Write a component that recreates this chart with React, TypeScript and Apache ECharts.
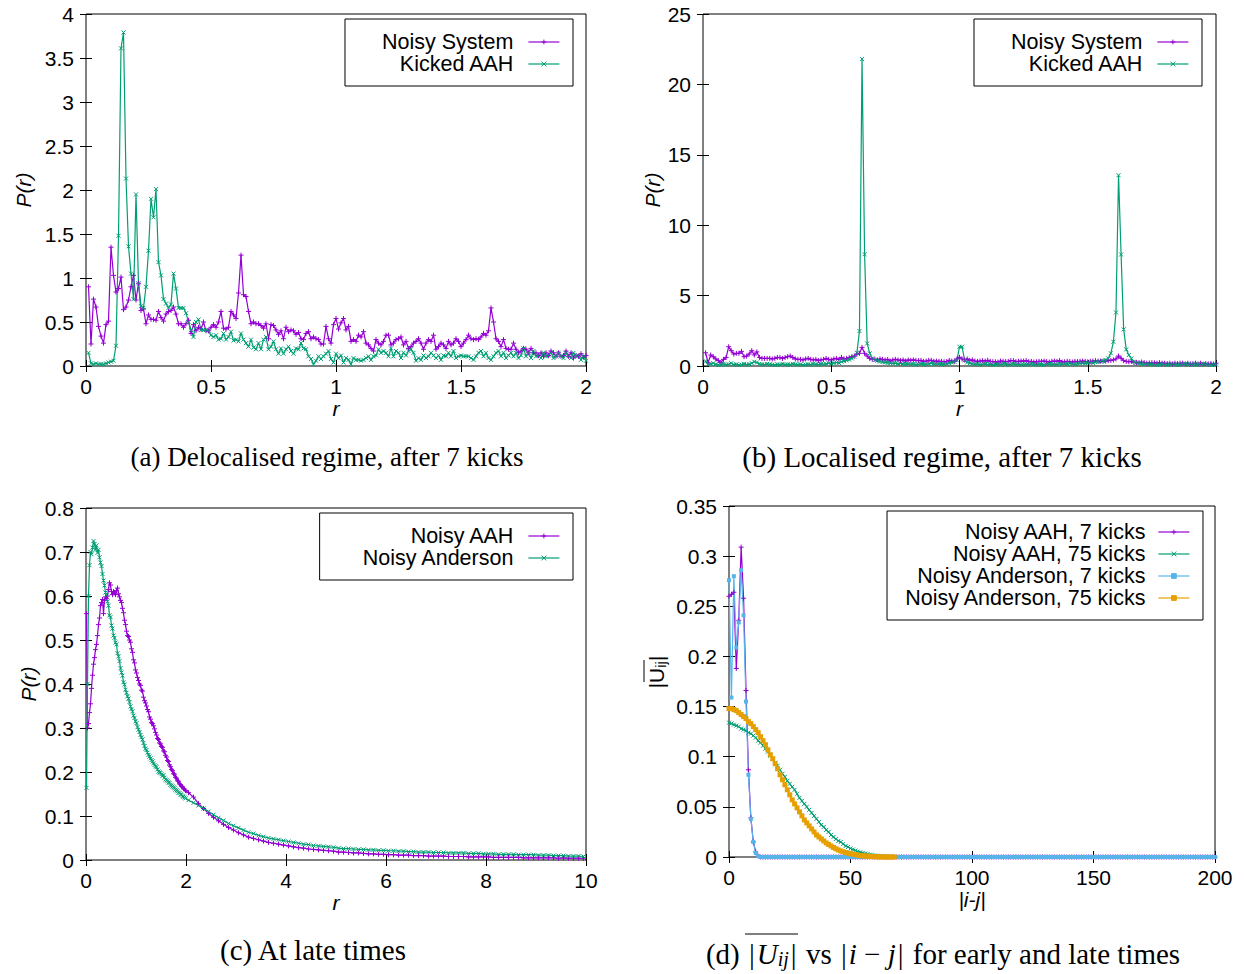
import React, { useEffect, useRef } from 'react';
import * as echarts from 'echarts';

const PURPLE = '#9400d3';
const GREEN = '#009e73';
const BLUE = '#56b4e9';
const ORANGE = '#e69f00';
const SANS = 'Liberation Sans';
const SERIF = 'Liberation Serif';

// ---------- (a) Delocalised regime, bins r = 0.01 .. 2.00 ----------
const A_START = 0.01;
const A_STEP = 0.01;
const aNoisySystem = [
  0.90,0.25,0.76,0.67,0.45,0.34,0.26,0.47,0.51,1.35,
  1.03,0.84,0.88,1.01,0.64,0.67,0.75,0.90,1.03,0.75,
  0.94,0.63,0.65,0.48,0.58,0.53,0.53,0.52,0.62,0.55,
  0.51,0.59,0.62,0.63,0.67,0.59,0.48,0.48,0.44,0.48,
  0.52,0.37,0.47,0.40,0.44,0.42,0.50,0.40,0.40,0.44,
  0.47,0.44,0.50,0.62,0.43,0.42,0.44,0.62,0.58,0.54,
  0.83,1.26,0.81,0.79,0.62,0.48,0.50,0.48,0.48,0.46,
  0.43,0.48,0.31,0.47,0.46,0.41,0.36,0.40,0.31,0.44,
  0.39,0.41,0.40,0.36,0.38,0.31,0.30,0.37,0.39,0.31,
  0.33,0.31,0.30,0.25,0.25,0.45,0.31,0.26,0.47,0.54,
  0.42,0.49,0.54,0.41,0.45,0.28,0.30,0.28,0.35,0.33,
  0.39,0.26,0.24,0.20,0.17,0.30,0.26,0.24,0.28,0.35,
  0.35,0.24,0.26,0.30,0.31,0.33,0.24,0.28,0.20,0.22,
  0.26,0.28,0.31,0.26,0.19,0.26,0.30,0.28,0.35,0.19,
  0.22,0.26,0.24,0.20,0.28,0.24,0.26,0.31,0.28,0.22,
  0.26,0.30,0.35,0.31,0.30,0.31,0.30,0.33,0.37,0.35,
  0.40,0.66,0.50,0.31,0.28,0.22,0.30,0.20,0.19,0.19,
  0.26,0.19,0.15,0.17,0.20,0.19,0.15,0.20,0.15,0.15,
  0.12,0.15,0.11,0.15,0.12,0.17,0.15,0.11,0.15,0.11,
  0.12,0.17,0.11,0.15,0.09,0.12,0.11,0.14,0.10,0.12,
];
const aKickedAAH = [
  0.15,0.03,0.02,0.03,0.02,0.02,0.02,0.03,0.04,0.05,
  0.06,0.23,1.48,3.61,3.79,2.13,1.36,1.05,0.76,1.95,
  0.94,0.68,0.66,0.90,1.31,1.90,1.69,2.01,1.18,1.03,
  0.76,0.71,0.66,0.70,1.05,0.88,0.66,0.66,0.66,0.60,
  0.50,0.41,0.33,0.50,0.53,0.41,0.41,0.41,0.40,0.35,
  0.33,0.35,0.30,0.31,0.37,0.30,0.33,0.39,0.29,0.30,
  0.28,0.37,0.30,0.26,0.22,0.30,0.21,0.19,0.26,0.19,
  0.30,0.33,0.19,0.22,0.28,0.19,0.14,0.20,0.14,0.19,
  0.22,0.17,0.14,0.20,0.19,0.26,0.20,0.19,0.11,0.08,
  0.02,0.06,0.11,0.08,0.11,0.14,0.17,0.08,0.04,0.14,
  0.09,0.12,0.04,0.09,0.07,0.02,0.09,0.07,0.07,0.06,
  0.07,0.09,0.11,0.07,0.11,0.12,0.19,0.15,0.17,0.15,
  0.11,0.20,0.11,0.17,0.15,0.09,0.15,0.12,0.17,0.19,
  0.15,0.06,0.09,0.07,0.12,0.09,0.11,0.15,0.12,0.09,
  0.12,0.07,0.12,0.11,0.15,0.11,0.17,0.09,0.11,0.12,
  0.11,0.11,0.11,0.09,0.07,0.11,0.15,0.17,0.11,0.15,
  0.09,0.07,0.11,0.15,0.17,0.11,0.15,0.09,0.12,0.15,
  0.11,0.15,0.09,0.12,0.20,0.11,0.15,0.09,0.17,0.11,
  0.12,0.09,0.15,0.11,0.12,0.15,0.09,0.11,0.15,0.11,
  0.09,0.15,0.11,0.09,0.15,0.11,0.12,0.07,0.11,0.06,
];

// ---------- (b) Localised regime, bins r = 0.01 .. 2.00 ----------
const bNoisySystem = [
  0.94,0.23,0.78,0.66,0.50,0.38,0.24,0.47,0.60,1.37,
  1.09,0.85,0.90,0.90,1.04,0.66,0.70,0.85,1.09,0.78,
  1.00,0.61,0.54,0.54,0.54,0.54,0.50,0.54,0.61,0.60,
  0.54,0.60,0.66,0.71,0.61,0.50,0.47,0.47,0.43,0.50,
  0.54,0.47,0.43,0.47,0.38,0.43,0.47,0.54,0.47,0.43,
  0.50,0.54,0.47,0.61,0.50,0.54,0.60,0.66,0.70,0.85,
  0.90,1.32,0.90,0.71,0.54,0.47,0.47,0.43,0.50,0.47,
  0.43,0.47,0.35,0.43,0.47,0.43,0.38,0.43,0.35,0.43,
  0.40,0.43,0.40,0.38,0.40,0.33,0.35,0.40,0.40,0.33,
  0.35,0.33,0.33,0.30,0.31,0.40,0.35,0.33,0.50,0.62,
  0.50,0.43,0.50,0.40,0.43,0.35,0.33,0.35,0.38,0.35,
  0.40,0.33,0.31,0.30,0.28,0.35,0.33,0.31,0.33,0.38,
  0.38,0.31,0.33,0.35,0.35,0.38,0.31,0.33,0.28,0.30,
  0.33,0.33,0.35,0.31,0.28,0.33,0.35,0.33,0.38,0.28,
  0.30,0.33,0.31,0.28,0.33,0.31,0.33,0.35,0.33,0.30,
  0.33,0.35,0.38,0.35,0.35,0.35,0.35,0.38,0.40,0.43,
  0.50,0.71,0.55,0.38,0.33,0.30,0.33,0.26,0.24,0.24,
  0.28,0.24,0.20,0.22,0.24,0.22,0.20,0.24,0.20,0.20,
  0.17,0.20,0.15,0.20,0.17,0.20,0.20,0.15,0.20,0.15,
  0.17,0.20,0.15,0.20,0.13,0.17,0.15,0.18,0.14,0.16,
];
const bKickedAAH = [
  0.35,0.10,0.15,0.20,0.12,0.08,0.10,0.15,0.10,0.12,
  0.20,0.10,0.12,0.08,0.10,0.15,0.10,0.12,0.20,0.30,
  0.25,0.15,0.12,0.10,0.15,0.12,0.10,0.08,0.12,0.10,
  0.15,0.10,0.12,0.10,0.15,0.12,0.10,0.12,0.08,0.10,
  0.12,0.10,0.15,0.12,0.10,0.15,0.12,0.15,0.20,0.15,
  0.20,0.25,0.22,0.30,0.35,0.40,0.45,0.54,0.66,0.94,
  2.48,21.8,7.94,1.60,0.90,0.54,0.43,0.38,0.32,0.28,
  0.25,0.22,0.20,0.18,0.20,0.15,0.18,0.15,0.12,0.15,
  0.12,0.15,0.10,0.12,0.15,0.10,0.12,0.15,0.20,0.15,
  0.12,0.15,0.10,0.12,0.15,0.20,0.25,0.30,0.40,1.37,
  1.37,0.40,0.25,0.20,0.15,0.12,0.15,0.10,0.12,0.15,
  0.10,0.12,0.08,0.10,0.12,0.10,0.15,0.12,0.10,0.12,
  0.15,0.10,0.12,0.10,0.08,0.12,0.10,0.15,0.12,0.10,
  0.12,0.10,0.08,0.12,0.15,0.10,0.12,0.10,0.15,0.12,
  0.15,0.12,0.18,0.15,0.12,0.15,0.18,0.20,0.18,0.22,
  0.25,0.22,0.28,0.30,0.32,0.35,0.43,0.54,0.90,1.72,
  3.80,13.55,7.92,2.60,1.18,0.78,0.54,0.30,0.22,0.18,
  0.15,0.12,0.15,0.10,0.12,0.10,0.08,0.10,0.12,0.10,
  0.08,0.10,0.12,0.10,0.08,0.10,0.12,0.15,0.10,0.12,
  0.10,0.08,0.12,0.10,0.15,0.12,0.10,0.08,0.12,0.10,
];

// ---------- (c) At late times ----------
const C_FINE_START = 0.01;  // r = 0.01 .. 1.99, step 0.02
const C_FINE_STEP = 0.02;
const C_COARSE_START = 2.05; // r = 2.05 .. 9.95, step 0.1
const C_COARSE_STEP = 0.1;
const cAahFine = [
  0.56,0.30,0.31,0.335,0.355,0.39,0.42,0.445,0.46,0.478,
  0.49,0.51,0.535,0.55,0.578,0.585,0.592,0.56,0.59,0.598,
  0.595,0.60,0.615,0.63,0.625,0.61,0.603,0.61,0.608,0.603,
  0.612,0.618,0.605,0.598,0.59,0.585,0.572,0.562,0.545,0.535,
  0.52,0.51,0.508,0.50,0.495,0.48,0.472,0.455,0.448,0.432,
  0.425,0.415,0.408,0.40,0.397,0.386,0.384,0.37,0.362,0.357,
  0.35,0.342,0.337,0.325,0.32,0.312,0.31,0.305,0.298,0.29,
  0.284,0.276,0.274,0.266,0.264,0.258,0.256,0.248,0.246,0.238,
  0.234,0.226,0.224,0.216,0.212,0.206,0.203,0.196,0.195,0.188,
  0.186,0.18,0.179,0.173,0.171,0.168,0.166,0.162,0.161,0.158,
];
const cAndersonFine = [
  0.164,0.40,0.60,0.67,0.70,0.695,0.71,0.725,0.718,0.705,
  0.715,0.698,0.705,0.688,0.676,0.668,0.650,0.635,0.624,0.608,
  0.602,0.588,0.578,0.556,0.552,0.533,0.526,0.510,0.505,0.494,
  0.490,0.470,0.463,0.452,0.436,0.426,0.419,0.404,0.399,0.387,
  0.380,0.372,0.367,0.359,0.349,0.343,0.338,0.328,0.323,0.315,
  0.311,0.302,0.296,0.291,0.284,0.279,0.274,0.266,0.259,0.253,
  0.250,0.244,0.239,0.235,0.231,0.227,0.224,0.220,0.216,0.213,
  0.211,0.206,0.201,0.199,0.198,0.195,0.191,0.193,0.187,0.183,
  0.181,0.179,0.176,0.175,0.171,0.169,0.167,0.165,0.163,0.160,
  0.158,0.156,0.153,0.152,0.149,0.148,0.145,0.144,0.142,0.140,
];
const cAahCoarse = [
  0.153,0.143,0.128,0.117,0.106,0.097,0.089,0.081,0.074,0.068,
  0.062,0.057,0.052,0.049,0.046,0.043,0.040,0.038,0.036,0.034,
  0.032,0.030,0.028,0.027,0.025,0.024,0.023,0.022,0.021,0.020,
  0.018,0.018,0.017,0.016,0.016,0.015,0.014,0.014,0.013,0.013,
  0.012,0.012,0.011,0.011,0.011,0.010,0.010,0.010,0.009,0.009,
  0.009,0.009,0.008,0.008,0.008,0.008,0.007,0.007,0.007,0.007,
  0.007,0.006,0.006,0.006,0.006,0.006,0.006,0.005,0.005,0.005,
  0.005,0.005,0.005,0.005,0.004,0.005,0.004,0.004,0.004,0.004,
];
const cAndersonCoarse = [
  0.136,0.130,0.124,0.117,0.110,0.103,0.096,0.090,0.083,0.078,
  0.073,0.068,0.063,0.060,0.056,0.053,0.050,0.048,0.046,0.044,
  0.042,0.040,0.038,0.036,0.035,0.033,0.032,0.031,0.030,0.029,
  0.027,0.026,0.026,0.025,0.024,0.024,0.023,0.023,0.022,0.022,
  0.021,0.021,0.020,0.020,0.019,0.019,0.018,0.018,0.018,0.017,
  0.017,0.017,0.016,0.016,0.016,0.016,0.015,0.015,0.015,0.014,
  0.014,0.014,0.013,0.013,0.013,0.013,0.012,0.012,0.012,0.012,
  0.011,0.011,0.011,0.010,0.010,0.010,0.009,0.009,0.009,0.008,
];

// ---------- (d) |U_ij| vs |i-j|, |i-j| = 0, 1, 2, ... ----------
const dAah7 = [
  0.260,0.262,0.264,0.188,0.236,0.309,0.258,0.166,0.087,0.039,0.015,0.005,0.001,
  0,0,0,0,0,0,0,0,0,0,0,0,0,0,0,0,0,0,0,0,
  0,0,0,0,0,0,0,0,0,0,0,0,0,0,0,0,0,0,0,0,
  0,0,0,0,0,0,0,0,0,0,0,0,0,0,0,0,0,0,0,0,
  0,0,0,0,0,0,0,0,0,0,0,0,0,0,0,0,0,0,0,0,
  0,0,0,0,0,0,0,0,0,0,0,0,0,0,0,0,0,0,0,0,
  0,0,0,0,0,0,0,0,0,0,0,0,0,0,0,0,0,0,0,0,
  0,0,0,0,0,0,0,0,0,0,0,0,0,0,0,0,0,0,0,0,
  0,0,0,0,0,0,0,0,0,0,0,0,0,0,0,0,0,0,0,0,
  0,0,0,0,0,0,0,0,0,0,0,0,0,0,0,0,0,0,0,0,
  0,0,0,0,0,0,0,0,
];
const dAah75 = [
  0.134,0.133,0.132,0.131,0.130,0.128,0.127,0.126,0.124,0.123,
  0.121,0.119,0.116,0.114,0.111,0.108,0.105,0.101,0.098,0.094,
  0.091,0.087,0.083,0.080,0.076,0.073,0.070,0.067,0.063,0.059,
  0.056,0.053,0.050,0.047,0.044,0.041,0.038,0.035,0.032,0.030,
  0.027,0.025,0.022,0.020,0.018,0.016,0.015,0.013,0.011,0.010,
  0.0085,0.0075,0.0065,0.0055,0.0048,0.0040,0.0033,0.0028,0.0023,0.0018,
  0.0015,0.0012,0.0009,0.0007,0.0005,0.0004,0.0003,0.0002,0.0001,0.0001,
  0,0,0,0,0,0,0,0,0,0,0,0,0,0,0,0,0,0,0,0,
  0,0,0,0,0,0,0,0,0,0,0,0,0,0,0,0,0,0,0,0,
  0,0,0,0,0,0,0,0,0,0,0,0,0,0,0,0,0,0,0,0,
  0,0,0,0,0,0,0,0,0,0,0,0,0,0,0,0,0,0,0,0,
  0,0,0,0,0,0,0,0,0,0,0,0,0,0,0,0,0,0,0,0,
  0,0,0,0,0,0,0,0,0,0,0,0,0,0,0,0,0,0,0,0,
  0,0,0,0,0,0,0,0,0,0,0,
];
const dAnd7 = [
  0.276,0.159,0.280,0.209,0.234,0.286,0.241,0.155,0.082,0.038,0.015,0.004,0.001,
  0,0,0,0,0,0,0,0,0,0,0,0,0,0,0,0,0,0,0,0,
  0,0,0,0,0,0,0,0,0,0,0,0,0,0,0,0,0,0,0,0,
  0,0,0,0,0,0,0,0,0,0,0,0,0,0,0,0,0,0,0,0,
  0,0,0,0,0,0,0,0,0,0,0,0,0,0,0,0,0,0,0,0,
  0,0,0,0,0,0,0,0,0,0,0,0,0,0,0,0,0,0,0,0,
  0,0,0,0,0,0,0,0,0,0,0,0,0,0,0,0,0,0,0,0,
  0,0,0,0,0,0,0,0,0,0,0,0,0,0,0,0,0,0,0,0,
  0,0,0,0,0,0,0,0,0,0,0,0,0,0,0,0,0,0,0,0,
  0,0,0,0,0,0,0,0,0,0,0,0,0,0,0,0,0,0,0,0,
  0,0,0,0,0,0,0,0,
];
const dAnd75 = [
  0.148,0.148,0.147,0.146,0.144,0.142,0.140,0.138,0.135,0.133,
  0.130,0.127,0.124,0.120,0.116,0.112,0.107,0.102,0.098,0.093,
  0.088,0.082,0.077,0.072,0.067,0.062,0.057,0.053,0.049,0.045,
  0.041,0.037,0.034,0.031,0.028,0.025,0.022,0.020,0.018,0.016,
  0.014,0.0125,0.011,0.0095,0.0082,0.0070,0.0060,0.0052,0.0045,0.0038,
  0.0033,0.0028,0.0023,0.0019,0.0015,0.0012,0.0010,0.0008,0.0006,0.0004,
  0.0003,0.0002,0.0001,0.0001,0,0,0,0,0,
];

const PLUS = 'path://M0,5L10,5M5,0L5,10';
const CROSS = 'path://M0,0L10,10M10,0L0,10';

function pairs(vals: number[], start: number, step: number) {
  return vals.map((v, i) => [Math.round((start + i * step) * 1000) / 1000, v]);
}

const axisLabelStyle = { color: '#000', fontSize: 21, fontFamily: SANS };

function xPair(g: number, min: number, max: number, interval: number, name: string, nameGap: number) {
  const common = {
    type: 'value', gridIndex: g, min, max, interval,
    splitLine: { show: false },
    axisLine: { show: false },
    axisTick: { inside: true, length: 6, lineStyle: { color: '#000', width: 1 } },
  };
  return [
    {
      ...common, position: 'bottom',
      axisLabel: { ...axisLabelStyle, margin: 10 },
      name, nameLocation: 'middle', nameGap,
      nameTextStyle: { color: '#000', fontSize: 21, fontFamily: SANS, fontStyle: 'italic' },
    },
    { ...common, position: 'top', axisLabel: { show: false } },
  ];
}
function yPair(g: number, min: number, max: number, interval: number, name: string, nameGap: number) {
  const common = {
    type: 'value', gridIndex: g, min, max, interval,
    splitLine: { show: false },
    axisLine: { show: false },
    axisTick: { inside: true, length: 6, lineStyle: { color: '#000', width: 1 } },
  };
  return [
    {
      ...common, position: 'left',
      axisLabel: { ...axisLabelStyle, margin: 12 },
      name, nameLocation: 'middle', nameGap, nameRotate: 90,
      nameTextStyle: { color: '#000', fontSize: 21, fontFamily: SANS, fontStyle: 'italic' },
    },
    { ...common, position: 'right', axisLabel: { show: false } },
  ];
}

function ser(name: string, g: number, data: number[][], color: string, symbol: string, size: number, filled = false) {
  return {
    type: 'line', name, xAxisIndex: 2 * g, yAxisIndex: 2 * g, data,
    symbol, symbolSize: size, showSymbol: true, showAllSymbol: true,
    lineStyle: { color, width: 1.2 },
    itemStyle: { color, borderColor: color, borderWidth: filled ? 0 : 1 },
    emphasis: { disabled: true },
    silent: true,
  };
}

function legend(names: string[], right: number, top: number, padding: number[], textGap: number) {
  return {
    data: names, orient: 'vertical', right, top, align: 'right',
    itemWidth: 31, itemHeight: 6, itemGap: 0, padding,
    borderColor: '#000', borderWidth: 1, borderRadius: 0, backgroundColor: '#fff',
    selectedMode: false,
    textStyle: { color: '#000', fontSize: 21.5, fontFamily: SANS, lineHeight: 21, padding: [0, textGap, 0, 0] },
    lineStyle: { width: 1.2 },
    itemStyle: { borderWidth: 1 },
  };
}

function caption(text: string, x: number, y: number, size: number, rich?: any) {
  return {
    type: 'text', x, y, silent: true,
    style: {
      text, fill: '#000', fontSize: size, fontFamily: SERIF,
      align: 'center', verticalAlign: 'middle', textAlign: 'center', textVerticalAlign: 'middle',
      rich,
    },
  };
}

export default function App() {
  const ref = useRef<HTMLDivElement>(null);
  useEffect(() => {
    if (!ref.current) return;
    const chart = echarts.init(ref.current, undefined, { renderer: 'svg' });
    const D_CAP = 29;
    const capRich = {
      it: { fontSize: D_CAP, fontFamily: SERIF, fontStyle: 'italic' },
      sub: { fontSize: 20, fontFamily: SERIF, fontStyle: 'italic', padding: [10, 0, 0, 0] },
      bar: { fontSize: D_CAP, fontFamily: SERIF, padding: [0, 2, 0, 2] },
    };
    const option: any = {
      animation: false,
      backgroundColor: '#fff',
      grid: [
        { left: 86, top: 14, width: 500, height: 352, show: true, borderColor: '#000', borderWidth: 1 },
        { left: 703, top: 14, width: 513, height: 352, show: true, borderColor: '#000', borderWidth: 1 },
        { left: 86, top: 508, width: 500, height: 352, show: true, borderColor: '#000', borderWidth: 1 },
        { left: 729, top: 506, width: 486, height: 351, show: true, borderColor: '#000', borderWidth: 1 },
      ],
      xAxis: [
        ...xPair(0, 0, 2, 0.5, 'r', 31),
        ...xPair(1, 0, 2, 0.5, 'r', 31),
        ...xPair(2, 0, 10, 2, 'r', 31),
        ...xPair(3, 0, 200, 50, '|i-j|', 30),
      ],
      yAxis: [
        ...yPair(0, 0, 4, 0.5, 'P(r)', 52),
        ...yPair(1, 0, 25, 5, 'P(r)', 40),
        ...yPair(2, 0, 0.8, 0.1, 'P(r)', 47),
        ...yPair(3, 0, 0.35, 0.05, '', 60),
      ],
      legend: [
        legend(['Noisy System', 'Kicked AAH'], 671, 19, [12, 13, 11, 37], 10),
        legend(['Noisy System', 'Kicked AAH'], 42, 19, [12, 13, 11, 37], 10),
        legend(['Noisy AAH', 'Noisy Anderson'], 671, 513, [12, 13, 11, 42], 10),
        legend(['Noisy AAH, 7 kicks', 'Noisy AAH, 75 kicks', 'Noisy Anderson, 7 kicks', 'Noisy Anderson, 75 kicks'], 41, 511, [10, 13, 11, 17], 8),
      ],
      series: [
        ser('Noisy System', 0, pairs(aNoisySystem, A_START, A_STEP), PURPLE, PLUS, 5),
        ser('Kicked AAH', 0, pairs(aKickedAAH, A_START, A_STEP), GREEN, CROSS, 4),
        ser('Noisy System', 1, pairs(bNoisySystem, A_START, A_STEP), PURPLE, PLUS, 5),
        ser('Kicked AAH', 1, pairs(bKickedAAH, A_START, A_STEP), GREEN, CROSS, 4),
        ser('Noisy AAH', 2, [...pairs(cAahFine, C_FINE_START, C_FINE_STEP), ...pairs(cAahCoarse, C_COARSE_START, C_COARSE_STEP)], PURPLE, PLUS, 5),
        ser('Noisy Anderson', 2, [...pairs(cAndersonFine, C_FINE_START, C_FINE_STEP), ...pairs(cAndersonCoarse, C_COARSE_START, C_COARSE_STEP)], GREEN, CROSS, 4),
        ser('Noisy AAH, 7 kicks', 3, pairs(dAah7, 0, 1), PURPLE, PLUS, 5),
        ser('Noisy AAH, 75 kicks', 3, pairs(dAah75, 0, 1), GREEN, CROSS, 4),
        ser('Noisy Anderson, 7 kicks', 3, pairs(dAnd7, 0, 1), BLUE, 'rect', 4, true),
        ser('Noisy Anderson, 75 kicks', 3, pairs(dAnd75, 0, 1), ORANGE, 'rect', 5, true),
      ],
      graphic: [
        caption('(a) Delocalised regime, after 7 kicks', 327, 457, 27),
        caption('(b) Localised regime, after 7 kicks', 942, 457, 29),
        caption('(c) At late times', 313, 950, 29),
        caption('(d) {bar||}{it|U}{sub|ij}{bar||} vs {bar||}{it|i} − {it|j}{bar||} for early and late times', 943, 954, D_CAP, capRich),
        { type: 'line', silent: true, shape: { x1: 745, y1: 934, x2: 798, y2: 934 }, style: { stroke: '#000', lineWidth: 1.2 } },
        {
          type: 'group', x: 656, y: 672, rotation: Math.PI / 2, silent: true,
          children: [
            {
              type: 'text', x: 0, y: 0,
              style: {
                text: '|U{s|ij}|', fill: '#000', fontSize: 21, fontFamily: SANS,
                align: 'center', verticalAlign: 'middle', textAlign: 'center', textVerticalAlign: 'middle',
                rich: { s: { fontSize: 15, fontFamily: SANS, padding: [8, 0, 0, 0] } },
              },
            },
            { type: 'line', shape: { x1: -10, y1: -12, x2: 12, y2: -12 }, style: { stroke: '#000', lineWidth: 1 } },
          ],
        },
      ],
    };
    chart.setOption(option);
    return () => chart.dispose();
  }, []);
  return (
    <div
      ref={ref}
      style={{ position: 'fixed', left: 0, top: 0, width: 1244, height: 974, background: '#fff' }}
    />
  );
}
